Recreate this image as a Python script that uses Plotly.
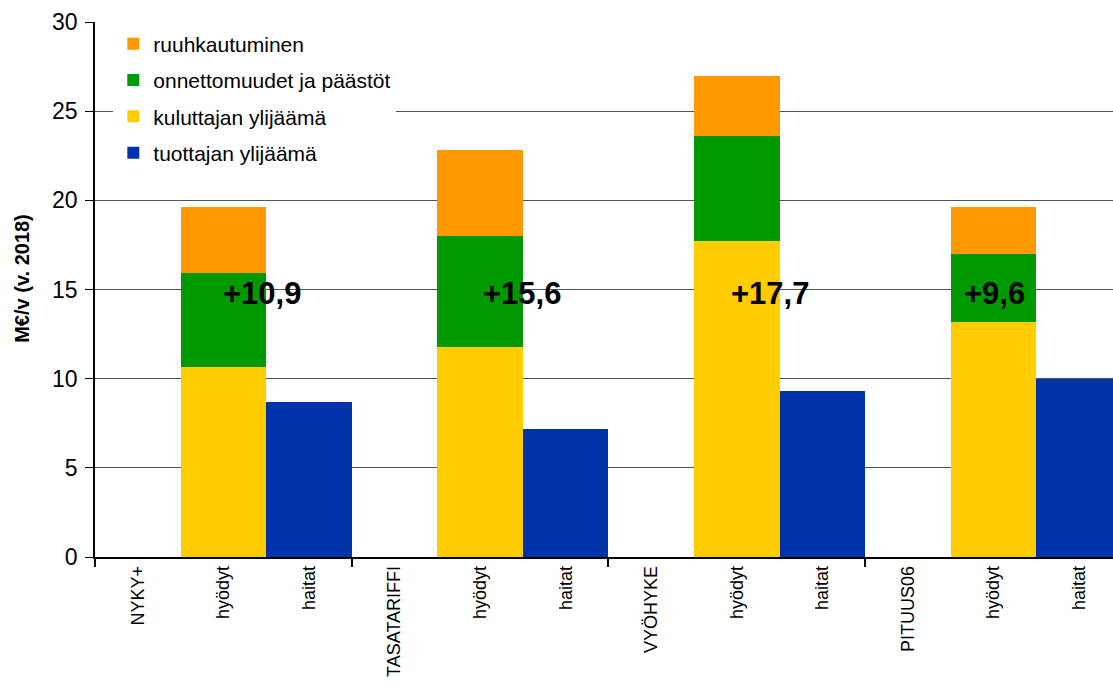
import plotly.graph_objects as go

# Category labels along the x axis (three columns per scenario)
categories = ["NYKY+", "hyödyt", "haitat",
              "TASATARIFFI", "hyödyt", "haitat",
              "VYÖHYKE", "hyödyt", "haitat",
              "PITUUS06", "hyödyt", "haitat"]

# Stacked benefit components (M€/v), placed in the "hyödyt" columns
kuluttajan_ylijaama = [None, 10.65, None, None, 11.8, None, None, 17.7, None, None, 13.15, None]
onnettomuudet_paastot = [None, 5.3, None, None, 6.2, None, None, 5.9, None, None, 3.85, None]
ruuhkautuminen = [None, 3.65, None, None, 4.8, None, None, 3.4, None, None, 2.6, None]
# Costs (M€/v), placed in the "haitat" columns
tuottajan_ylijaama = [None, None, 8.7, None, None, 7.2, None, None, 9.3, None, None, 10.0]

# Horizontal positions of the net-benefit labels (axis units)
net_label_x = [1.457, 4.489, 7.388, 10.005]
net_label_y = 14.8

x = list(range(len(categories)))

fig = go.Figure()
series = [
    ("tuottajan ylijäämä", tuottajan_ylijaama, "#0033A9", 4),
    ("kuluttajan ylijäämä", kuluttajan_ylijaama, "#FFCC00", 3),
    ("onnettomuudet ja päästöt", onnettomuudet_paastot, "#009900", 2),
    ("ruuhkautuminen", ruuhkautuminen, "#FF9900", 1),
]
for name, vals, color, rank in series:
    fig.add_trace(go.Bar(x=x, y=vals, name=name, legendgroup=name, legendrank=rank,
                         marker=dict(color=color, line=dict(width=0)),
                         width=1.0))

# Net benefit per scenario: total of hyödyt minus haitat
def v(a):
    return a if a is not None else 0.0

for k in range(4):
    h = 3 * k + 1
    total = v(kuluttajan_ylijaama[h]) + v(onnettomuudet_paastot[h]) + v(ruuhkautuminen[h])
    net = total - v(tuottajan_ylijaama[h + 1])
    text = "+" + f"{round(net + 1e-9, 1):.1f}".replace(".", ",")
    fig.add_annotation(x=net_label_x[k], y=net_label_y, text=f"<b>{text}</b>",
                       showarrow=False, xanchor="center", yanchor="middle",
                       font=dict(family="Arial, Liberation Sans", size=31, color="black"))

# Y axis title
fig.add_annotation(xref="paper", yref="paper", x=0, y=0.52, xshift=-73,
                   text="<b>M€/v (v. 2018)</b>", textangle=-90, showarrow=False,
                   xanchor="center", yanchor="middle",
                   font=dict(family="Arial, Liberation Sans", size=20, color="black"))

fig.update_layout(
    width=1113, height=684,
    margin=dict(l=95, r=0, t=22, b=127),
    paper_bgcolor="white", plot_bgcolor="white",
    barmode="stack", bargap=0,
    font=dict(family="Arial, Liberation Sans", color="black"),
    showlegend=True,
    legend=dict(
        x=0.018, y=0.997, xanchor="left", yanchor="top",
        traceorder="grouped", tracegroupgap=6,
        bgcolor="white", borderwidth=0,
        entrywidth=365,
        font=dict(size=21, color="black"),
        itemclick=False,
    ),
    xaxis=dict(
        range=[-0.5, 11.395],
        tickmode="array", tickvals=x, ticktext=categories,
        tickangle=-90, ticks="",
        tickfont=dict(size=18, color="black"),
        showline=True, linecolor="black", linewidth=1.5,
        showgrid=False, zeroline=False,
        minor=dict(tickmode="linear", tick0=-0.5, dtick=3,
                   ticks="outside", ticklen=8, tickwidth=1.5,
                   tickcolor="black", showgrid=False),
    ),
    yaxis=dict(
        range=[0, 30], tickmode="linear", tick0=0, dtick=5,
        ticks="outside", ticklen=8, tickcolor="black", tickwidth=1,
        tickfont=dict(size=23, color="black"),
        ticklabelstandoff=3,
        showline=True, linecolor="black", linewidth=1.5,
        showgrid=True, gridcolor="#555555", gridwidth=1,
        zeroline=False,
    ),
)

fig.write_html("out.html")
